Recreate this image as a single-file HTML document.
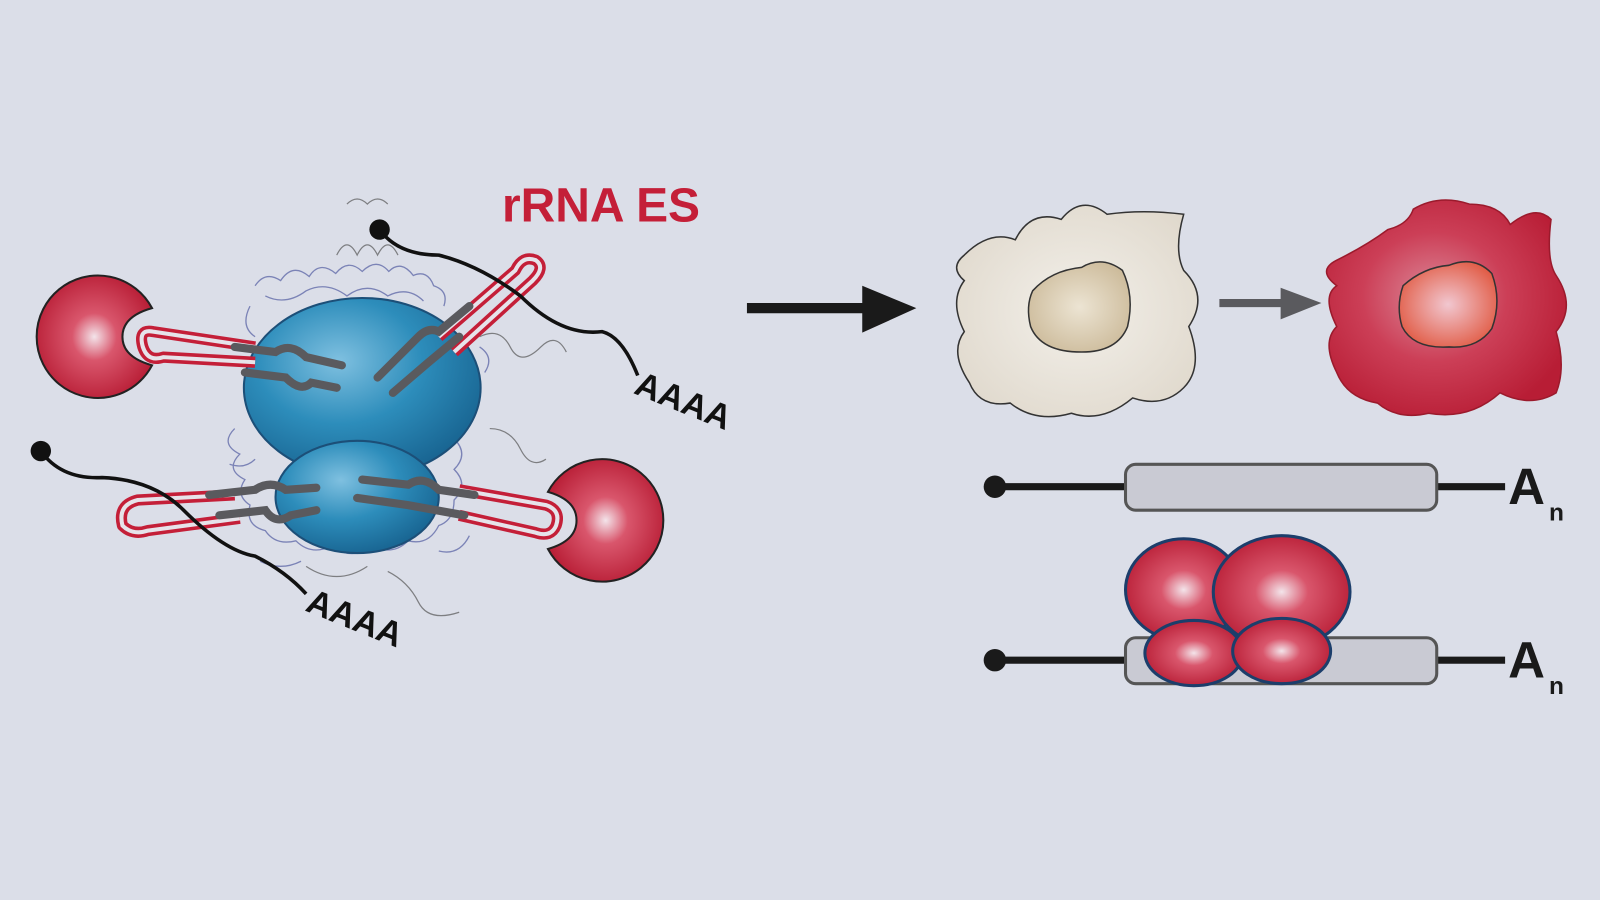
<!DOCTYPE html>
<html><head><meta charset="utf-8"><style>
html,body{margin:0;padding:0;background:#dbdee8;width:1600px;height:900px;overflow:hidden}
svg{display:block}
</style></head><body>
<svg width="1600" height="900" viewBox="0 0 1568 882" preserveAspectRatio="none" xmlns="http://www.w3.org/2000/svg">
<defs>
<radialGradient id="blue" cx="0.4" cy="0.35" r="0.7"><stop offset="0" stop-color="#7fc0e0"/><stop offset="0.5" stop-color="#2d8dbb"/><stop offset="1" stop-color="#17628f"/></radialGradient>
<radialGradient id="red" cx="0.5" cy="0.5" r="0.55"><stop offset="0" stop-color="#f3e4ea"/><stop offset="0.35" stop-color="#d9566c"/><stop offset="1" stop-color="#b81d35"/></radialGradient>
<radialGradient id="redcell" cx="0.45" cy="0.45" r="0.6"><stop offset="0" stop-color="#dc8a9a"/><stop offset="0.5" stop-color="#cc3f57"/><stop offset="1" stop-color="#b81d35"/></radialGradient>
<radialGradient id="nuc2" cx="0.5" cy="0.5" r="0.6"><stop offset="0" stop-color="#f1c7d0"/><stop offset="1" stop-color="#e0553d"/></radialGradient>
<radialGradient id="beige" cx="0.5" cy="0.5" r="0.6"><stop offset="0" stop-color="#f3f0ea"/><stop offset="1" stop-color="#e0d9cd"/></radialGradient>
<radialGradient id="nuc1" cx="0.5" cy="0.5" r="0.6"><stop offset="0" stop-color="#ece4d3"/><stop offset="1" stop-color="#cbb998"/></radialGradient>
</defs>
<rect width="1568" height="882" fill="#dbdee8"/>

<!-- protein texture -->
<g fill="none" stroke="#2e3a8f" stroke-width="1.3" opacity="0.55">
<path d="M250 280 q10 -15 25 -5 q12 -18 28 -4 q10 -16 26 -3 q12 -15 26 -2 q14 -14 26 0 q12 -12 24 4 q14 -6 20 10 q15 5 10 20"/>
<path d="M245 300 q-10 20 5 30 M470 340 q15 10 5 25 M230 420 q-15 15 5 25 q-15 15 5 25 q-10 15 5 25 q-5 20 15 25 q10 15 30 10 q15 15 35 5 q20 15 40 0 q20 10 35 -5 q20 5 30 -15 q15 -5 15 -25 q15 -15 0 -30 q15 -15 0 -30"/>
<path d="M260 290 q20 10 40 -5 q20 -10 40 5 q20 -15 40 0 q20 -10 35 5"/>
<path d="M225 455 q15 5 25 -5 M430 540 q20 5 30 -15 M255 550 q20 10 40 0"/>
</g>
<g fill="none" stroke="#555" stroke-width="1.2" opacity="0.7">
<path d="M330 250 q10 -20 20 0 q10 -20 20 0 q10 -20 20 0 M340 200 q10 -10 20 0 q10 -10 20 0 M470 330 q20 -10 30 10 q10 20 30 0 q15 -15 25 5 M480 420 q20 0 30 20 q10 20 25 10 M380 560 q20 10 30 30 q10 20 40 10 M300 555 q30 20 60 0"/>
</g>

<!-- ribosome -->
<ellipse cx="355" cy="380" rx="116" ry="88" fill="url(#blue)" stroke="#1c4f78" stroke-width="2"/>
<ellipse cx="350" cy="487" rx="80" ry="55" fill="url(#blue)" stroke="#1c4f78" stroke-width="2"/>

<!-- red ES hairpins -->
<g fill="none" stroke="#c41f38" stroke-width="11" stroke-linejoin="round">
<path d="M250 340 L150 325 Q135 322 140 340 Q145 355 160 350 L250 355"/>
<path d="M430 330 L505 265 Q512 250 525 255 Q535 262 522 275 L445 345"/>
<path d="M230 485 L135 490 Q115 495 120 515 Q130 525 145 520 L235 508"/>
<path d="M450 480 L535 495 Q550 500 545 515 Q540 527 525 522 L450 505"/>
</g>
<g fill="none" stroke="#e6e3ea" stroke-width="4">
<path d="M250 340 L150 325 Q135 322 140 340 Q145 355 160 350 L250 355"/>
<path d="M430 330 L505 265 Q512 250 525 255 Q535 262 522 275 L445 345"/>
<path d="M230 485 L135 490 Q115 495 120 515 Q130 525 145 520 L235 508"/>
<path d="M450 480 L535 495 Q550 500 545 515 Q540 527 525 522 L450 505"/>
</g>

<!-- gray rRNA -->
<g fill="none" stroke="#5a5a5e" stroke-width="8" stroke-linecap="round">
<path d="M230 340 L270 345 Q285 335 300 350 L335 358"/>
<path d="M240 365 L280 370 Q295 385 305 375 L330 380"/>
<path d="M370 370 L410 330 Q420 320 430 325 L460 300"/>
<path d="M385 385 L420 355 L450 330"/>
<path d="M205 485 L250 480 Q265 470 280 480 L310 478"/>
<path d="M215 505 L260 500 Q270 515 285 505 L310 500"/>
<path d="M355 470 L400 475 Q415 465 430 480 L465 485"/>
<path d="M350 488 L400 495 L455 505"/>
</g>

<!-- red balls -->
<path d="M149 302 A60 60 0 1 0 149 358 Q120 350 120 330 Q120 310 149 302 Z" fill="url(#red)" stroke="#222" stroke-width="2"/>
<path d="M537 482 A60 60 0 1 1 537 538 Q565 530 565 510 Q565 490 537 482 Z" fill="url(#red)" stroke="#222" stroke-width="2"/>

<!-- mRNAs -->
<g fill="none" stroke="#111" stroke-width="3.5">
<path d="M372 225 Q390 250 430 250 Q470 260 510 290 Q550 330 590 325 Q610 330 625 368"/>
<path d="M40 442 Q60 470 100 468 Q150 470 180 500 Q220 540 250 545 Q280 560 300 582"/>
</g>
<circle cx="372" cy="225" r="10" fill="#111"/>
<circle cx="40" cy="442" r="10" fill="#111"/>
<text x="620" y="385" font-family="Liberation Sans,sans-serif" font-weight="bold" font-size="34" fill="#111" transform="rotate(22 620 385)">AAAA</text>
<text x="298" y="598" font-family="Liberation Sans,sans-serif" font-weight="bold" font-size="34" fill="#111" transform="rotate(22 298 598)">AAAA</text>

<text x="492" y="217" font-family="Liberation Sans,sans-serif" font-weight="bold" font-size="47" fill="#c41f38">rRNA ES</text>

<!-- big arrow -->
<line x1="732" y1="302" x2="855" y2="302" stroke="#1a1a1a" stroke-width="10"/>
<polygon points="845,280 898,302 845,326" fill="#1a1a1a"/>

<!-- beige cell -->
<path d="M945 250 Q970 225 995 235 Q1010 205 1040 215 Q1060 190 1085 210 Q1120 205 1160 210 Q1150 245 1160 265 Q1185 290 1165 320 Q1180 360 1160 380 Q1140 400 1110 390 Q1080 415 1050 405 Q1015 415 990 395 Q960 400 950 375 Q930 345 945 325 Q930 295 945 275 Q930 262 945 250 Z" fill="url(#beige)" stroke="#333" stroke-width="1.5"/>
<path d="M1012 285 Q1030 265 1060 262 Q1080 250 1100 265 Q1112 290 1105 320 Q1095 345 1060 345 Q1020 345 1010 320 Q1005 300 1012 285 Z" fill="url(#nuc1)" stroke="#333" stroke-width="1.5"/>

<!-- gray arrow -->
<line x1="1195" y1="297" x2="1262" y2="297" stroke="#5a5a5e" stroke-width="8"/>
<polygon points="1255,282 1295,297 1255,313" fill="#5a5a5e"/>

<!-- red cell -->
<path d="M1310 255 Q1340 240 1360 225 Q1380 220 1385 205 Q1410 190 1440 200 Q1470 200 1480 220 Q1505 200 1520 215 Q1515 255 1525 270 Q1545 300 1525 325 Q1535 360 1525 385 Q1500 400 1470 385 Q1440 412 1400 405 Q1370 412 1350 395 Q1320 390 1310 365 Q1295 335 1310 320 Q1295 290 1310 280 Q1290 265 1310 255 Z" fill="url(#redcell)" stroke="#9b1a2c" stroke-width="1.5"/>
<path d="M1375 280 Q1395 262 1420 260 Q1445 250 1462 268 Q1472 295 1462 322 Q1448 342 1420 340 Q1385 342 1374 320 Q1368 300 1375 280 Z" fill="url(#nuc2)" stroke="#333" stroke-width="1.5"/>

<!-- mRNA bars -->
<g>
<line x1="975" y1="477" x2="1475" y2="477" stroke="#1a1a1a" stroke-width="7"/>
<circle cx="975" cy="477" r="11" fill="#1a1a1a"/>
<rect x="1103" y="455" width="305" height="45" rx="10" fill="#c9cad3" stroke="#555" stroke-width="3"/>
<text x="1478" y="494" font-family="Liberation Sans,sans-serif" font-weight="bold" font-size="50" fill="#1a1a1a">A</text>
<text x="1518" y="510" font-family="Liberation Sans,sans-serif" font-weight="bold" font-size="24" fill="#1a1a1a">n</text>

<line x1="975" y1="647" x2="1475" y2="647" stroke="#1a1a1a" stroke-width="7"/>
<circle cx="975" cy="647" r="11" fill="#1a1a1a"/>
<rect x="1103" y="625" width="305" height="45" rx="10" fill="#c9cad3" stroke="#555" stroke-width="3"/>
<text x="1478" y="664" font-family="Liberation Sans,sans-serif" font-weight="bold" font-size="50" fill="#1a1a1a">A</text>
<text x="1518" y="680" font-family="Liberation Sans,sans-serif" font-weight="bold" font-size="24" fill="#1a1a1a">n</text>

<ellipse cx="1160" cy="578" rx="57" ry="50" fill="url(#red)" stroke="#1c3e6b" stroke-width="3"/>
<ellipse cx="1256" cy="580" rx="67" ry="55" fill="url(#red)" stroke="#1c3e6b" stroke-width="3"/>
<ellipse cx="1170" cy="640" rx="48" ry="32" fill="url(#red)" stroke="#1c3e6b" stroke-width="3"/>
<ellipse cx="1256" cy="638" rx="48" ry="32" fill="url(#red)" stroke="#1c3e6b" stroke-width="3"/>
</g>
</svg>
</body></html>
